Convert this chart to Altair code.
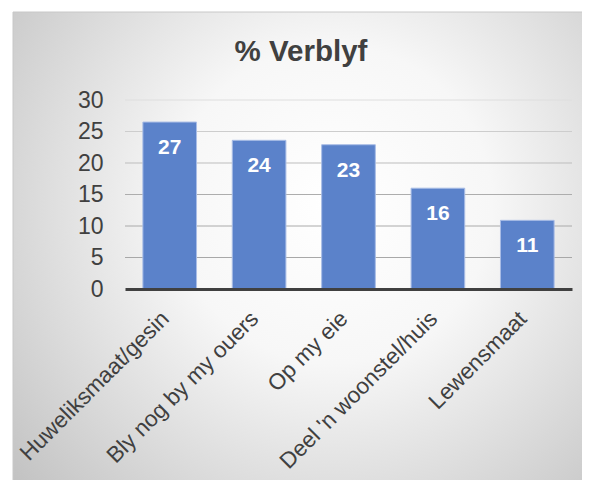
import altair as alt
import pandas as pd

categories = ["Huweliksmaat/gesin", "Bly nog by my ouers", "Op my eie",
              "Deel 'n woonstel/huis", "Lewensmaat"]
values = [26.5, 23.6, 22.9, 16.0, 10.9]
y_ticks = [0, 5, 10, 15, 20, 25, 30]
title_text = "% Verblyf"

df = pd.DataFrame({"cat": categories, "value": values})
grid_df = pd.DataFrame({"tick": y_ticks[1:]})
FONT = "Liberation Sans"

gradient = {
    "gradient": "radial",
    "x1": 0.55, "y1": 0.42, "r1": 0.0,
    "x2": 0.55, "y2": 0.42, "r2": 0.78,
    "stops": [
        {"offset": 0.0, "color": "#ffffff"},
        {"offset": 0.35, "color": "#f7f7f7"},
        {"offset": 1.0, "color": "#bcbcbc"},
    ],
}

panel = alt.Chart(alt.Data(values=[{"p": 1}])).mark_rect(
    fill=gradient, stroke="#c8c8c8", strokeWidth=1
).encode(
    x=alt.value(-112), x2=alt.value(470),
    y=alt.value(-88), y2=alt.value(390),
)

y_scale = alt.Scale(domain=[0, 30], nice=False)
y_axis = alt.Axis(title=None, values=y_ticks, labelFontSize=23,
                  labelColor="#404040", labelFont=FONT, ticks=False,
                  domain=False, grid=False, labelPadding=22, zindex=1,
                  labelOverlap=False)
x_scale = alt.Scale(paddingInner=0.4, paddingOuter=0.2)
x_axis = alt.Axis(title=None, labelAngle=-45, labelFontSize=22.5,
                  labelColor="#404040", labelFont=FONT, ticks=False,
                  domainWidth=3, domainColor="#404040",
                  labelPadding=18, labelOffset=-12, grid=False,
                  labelLimit=400, zindex=1, labelOverlap=False)

grid = alt.Chart(grid_df).mark_rule(strokeWidth=1).encode(
    y=alt.Y("tick:Q", scale=y_scale, axis=y_axis),
    x=alt.value(0), x2=alt.value(447),
    color=alt.Color("tick:Q", legend=None,
                    scale=alt.Scale(domain=[5, 15, 30],
                                    range=["#a8a8a8", "#adadad", "#dedede"])),
)

bars = alt.Chart(df).mark_bar(
    color="#5B82CA", stroke="#a9bde6", strokeWidth=1
).encode(
    x=alt.X("cat:N", sort=categories, scale=x_scale, axis=x_axis),
    y=alt.Y("value:Q", scale=y_scale, axis=y_axis),
)

labels = alt.Chart(df).mark_text(
    color="white", fontSize=21, fontWeight="bold", font=FONT,
    baseline="middle", dy=26
).encode(
    x=alt.X("cat:N", sort=categories, scale=x_scale, axis=x_axis),
    y=alt.Y("value:Q", scale=y_scale, axis=y_axis),
    text=alt.Text("value:Q", format=".0f"),
)

title = alt.Chart(alt.Data(values=[{"t": title_text}])).mark_text(
    fontSize=29.5, font=FONT, fontWeight="bold", color="#404040",
    align="center", baseline="alphabetic"
).encode(x=alt.value(176), y=alt.value(-39), text="t:N")

chart = alt.layer(panel, grid, bars, labels, title).properties(
    width=447, height=189,
    autosize=alt.AutoSizeParams(type="none"),
    padding={"left": 117, "top": 92, "right": 10, "bottom": 191},
    background="white",
).configure_view(stroke=None)

chart.save("out.html", embed_options={"renderer": "svg", "actions": False})
